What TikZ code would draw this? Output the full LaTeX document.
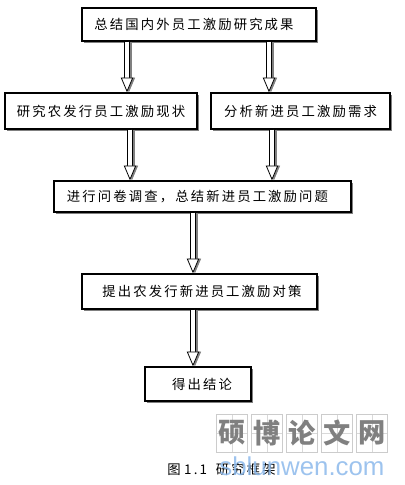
\documentclass[tikz,border=0pt]{standalone}
\usepackage{fontspec}
\setmainfont{Liberation Sans}
\newfontfamily\cjk[LetterSpace=16]{Noto Sans CJK SC}
\newfontfamily\markfont{Noto Sans CJK SC}
\usepackage{tikz}
\usetikzlibrary{arrows.meta, calc}

\begin{document}
\begin{tikzpicture}[
  x=0.02cm, y=-0.02cm,
  comp/.style={rectangle, draw, line width=0.75pt, fill=white, inner sep=0pt, font=\cjk\fontsize{7.6}{9}\selectfont,
    preaction={draw=none, fill=gray, transform canvas={xshift=1.4pt, yshift=-1.4pt}}},
  arr/.style={-{Triangle[length=8.4pt, width=7pt, fill=white, line width=0.45pt]}, line width=0.45pt, double=white, double distance=2.2pt},
  arrshadow/.style={-{Triangle[length=8.4pt, width=7pt, fill=gray, line width=0.45pt]}, draw=gray, line width=3.1pt, transform canvas={xshift=1.1pt}},
  cell/.style={rectangle, draw=black!20, line width=0.4pt, minimum width=0.62cm, minimum height=0.76cm, inner sep=0pt, font=\markfont\bfseries\fontsize{15.5}{16}\selectfont, text=black!50,
    path picture={\draw[black!15, line width=0.3pt] (path picture bounding box.north) -- (path picture bounding box.south) (path picture bounding box.west) -- (path picture bounding box.east);}}
]
\useasboundingbox (0,0) rectangle (405,485);

% Boxes
\node[comp, minimum width=4.68cm, minimum height=0.66cm] (summary) at (199,24.5) {总结国内外员工激励研究成果\kern5.7pt};
\node[comp, minimum width=3.84cm, minimum height=0.72cm] (status) at (101,111) {研究农发行员工激励现状};
\node[comp, minimum width=3.58cm, minimum height=0.72cm] (needs) at (300.5,111) {分析新进员工激励需求};
\node[comp, minimum width=5.94cm, minimum height=0.62cm] (survey) at (202.5,196.5) {进行问卷调查，总结新进员工激励问题\kern5.7pt};
\node[comp, minimum width=4.7cm, minimum height=0.7cm] (measures) at (199.5,291.5) {\kern2.8pt提出农发行新进员工激励对策};
\node[comp, minimum width=2.12cm, minimum height=0.68cm] (result) at (198,384) {\kern4.5pt得出结论};

% Arrow columns
\coordinate (colA) at (127,0);
\coordinate (colB) at (269,0);
\coordinate (colC) at (130,0);
\coordinate (colD) at (272,0);
\coordinate (colE) at (193,0);

% Arrow shadows
\draw[arrshadow] (summary.south -| colA) -- (status.north -| colA);
\draw[arrshadow] (summary.south -| colB) -- (needs.north -| colB);
\draw[arrshadow] (status.south -| colC) -- (survey.north -| colC);
\draw[arrshadow] (needs.south -| colD) -- (survey.north -| colD);
\draw[arrshadow] (survey.south -| colE) -- (measures.north -| colE);
\draw[arrshadow] (measures.south -| colE) -- (result.north -| colE);

% Arrows
\draw[arr] (summary.south -| colA) -- (status.north -| colA);
\draw[arr] (summary.south -| colB) -- (needs.north -| colB);
\draw[arr] (status.south -| colC) -- (survey.north -| colC);
\draw[arr] (needs.south -| colD) -- (survey.north -| colD);
\draw[arr] (survey.south -| colE) -- (measures.north -| colE);
\draw[arr] (measures.south -| colE) -- (result.north -| colE);

% Caption
\node[font=\cjk\fontsize{7.6}{9}\selectfont, inner sep=0pt, anchor=west] (caption) at (167,469) {图\kern2pt 1.1\kern5pt 研究框架};

% Watermark
\node[cell] (mark1) at (232,433) {硕};
\node[cell] (mark2) at (267,433) {博};
\node[cell] (mark3) at (302,433) {论};
\node[cell] (mark4) at (337,433) {文};
\node[cell] (mark5) at (372,433) {网};
\node[font=\fontsize{14.7}{16}\selectfont, text={rgb,255:red,140;green,185;blue,235}, inner sep=0pt, opacity=0.85] (site) at (302,466) {sblunwen.com};
\end{tikzpicture}
\end{document}
